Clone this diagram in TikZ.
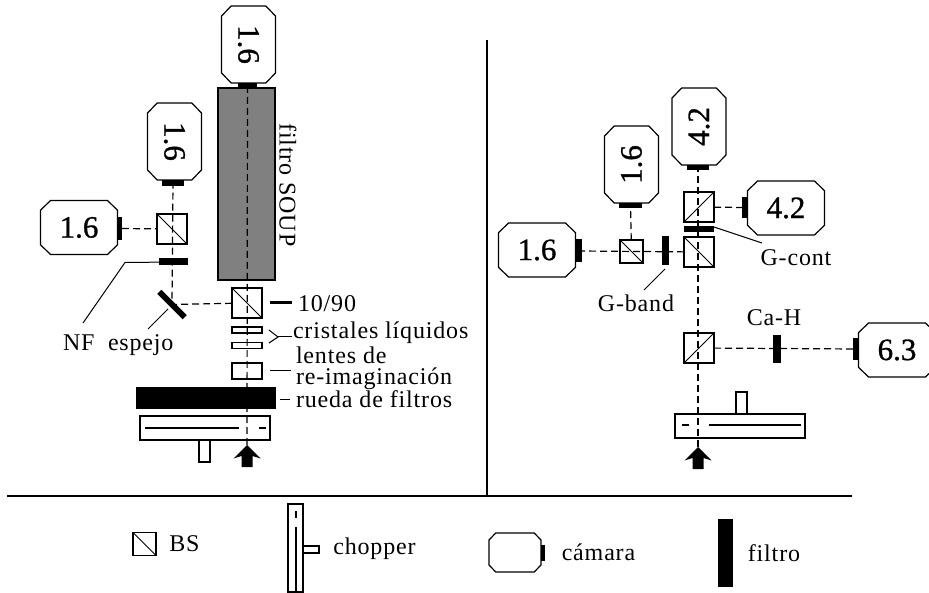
\documentclass[tikz,border=0pt]{standalone}
\usepackage{fontspec}
\setmainfont{Liberation Serif}
\newfontfamily\camfont[FakeBold=1]{Liberation Serif}
\newfontfamily\lblfont[LetterSpace=3.5]{Liberation Serif}
\usetikzlibrary{calc}
\tikzset{
  cam/.style={inner sep=0pt,outer sep=0pt,minimum width=77pt,minimum height=54pt,font=\camfont\fontsize{31}{31}\selectfont,
    append after command={\pgfextra{\draw[line width=1.2pt]
      ($(\tikzlastnode.north west)!.13!(\tikzlastnode.north east)$) -- ($(\tikzlastnode.north east)!.13!(\tikzlastnode.north west)$) --
      ($(\tikzlastnode.north east)!.18!(\tikzlastnode.south east)$) -- ($(\tikzlastnode.south east)!.18!(\tikzlastnode.north east)$) --
      ($(\tikzlastnode.south east)!.13!(\tikzlastnode.south west)$) -- ($(\tikzlastnode.south west)!.13!(\tikzlastnode.south east)$) --
      ($(\tikzlastnode.south west)!.18!(\tikzlastnode.north west)$) -- ($(\tikzlastnode.north west)!.18!(\tikzlastnode.south west)$) -- cycle;}}},
  blk/.style={fill=black,inner sep=0pt,outer sep=0pt},
  bsbox/.style={draw,line width=1.2pt,inner sep=0pt,outer sep=0pt,minimum size=#1},
  bsdown/.style={bsbox=#1,path picture={\draw[line width=1pt] (path picture bounding box.north west) -- (path picture bounding box.south east);}},
  bsup/.style={bsbox=#1,path picture={\draw[line width=1pt] (path picture bounding box.south west) -- (path picture bounding box.north east);}},
  beam/.style={line width=1.2pt,dash pattern=on 7pt off 4pt},
  plainbox/.style={draw,line width=1.2pt,inner sep=0pt,outer sep=0pt},
  txt/.style={font=\lblfont\fontsize{24}{21}\selectfont,inner sep=0pt,outer sep=0pt},
  lead/.style={line width=1pt},
  uparrow/.pic={\fill (0,0) -- (13.5,13.5) -- (5.5,11) -- (5.5,22) -- (-5.5,22) -- (-5.5,11) -- (-13.5,13.5) -- cycle;},
}
\begin{document}
\begin{tikzpicture}[x=1pt,y=-1pt]
\useasboundingbox (0,0) rectangle (929,593);
% Dividers
\coordinate (hl) at (7,496);
\coordinate (hr) at (852,496);
\coordinate (vt) at (487,40);
\coordinate (vb) at (487,496);
\draw[line width=1.2pt] (hl) -- (hr);
\draw[line width=1.2pt] (vt) -- (vb);
% Left bench
\node[plainbox,fill=black!50,minimum width=57pt,minimum height=192pt] (soup) at (246.5,184) {};
\node[txt,rotate=-90] (labsoup) at (288,185) {filtro SOUP};
\node[cam,rotate=-90] (camA) at (248.5,44.5) {1.6};
\node[blk,minimum width=19pt,minimum height=5pt] (noseA) at (247.5,85.5) {};
\node[cam,rotate=-90] (camB) at (174.5,141.5) {1.6};
\node[blk,minimum width=22pt,minimum height=6pt] (noseB) at (173,183) {};
\node[cam] (camC) at (79,227.5) {1.6};
\node[blk,minimum width=5pt,minimum height=23pt] (noseC) at (119.5,228.5) {};
\node[bsdown=30pt] (bsA) at (172,229) {};
\node[blk,minimum width=29pt,minimum height=7pt] (filtNF) at (173.5,262) {};
\node[blk,rotate=-45,minimum width=36pt,minimum height=6pt] (mirror) at (172,304.5) {};
\node[bsdown=30pt] (bsB) at (247,303) {};
\node[plainbox,minimum width=30pt,minimum height=6pt] (lcA) at (247,330) {};
\node[plainbox,minimum width=30pt,minimum height=6pt] (lcB) at (247,345.5) {};
\node[plainbox,minimum width=30pt,minimum height=16pt] (lens) at (247,371) {};
\node[blk,minimum width=140pt,minimum height=22pt] (wheel) at (206,398) {};
\node[plainbox,minimum width=130pt,minimum height=24pt] (chopA) at (205,428) {};
\node[plainbox,minimum width=11pt,minimum height=22pt] (stemA) at (204.5,451) {};
\coordinate (inA) at (247,445);
\pic at (inA) {uparrow};
\draw[line width=1.2pt] (145,428) -- (239,428);
\draw[line width=1.2pt] (259,428) -- (266,428);
\draw[beam] (inA) -- (noseA);
\draw[beam] (bsB) -- (mirror.center) -- (noseB);
\draw[beam] (noseC) -- (bsA);
% Left labels
\node[blk,minimum width=22pt,minimum height=3pt] (bar) at (281,303) {};
\node[txt,anchor=base west] (lab1090) at (298,312) {10/90};
\node[txt,anchor=base west] (lablc) at (293,339) {cristales líquidos};
\node[txt,anchor=west,align=left] (lablens) at (296,368) {lentes de\\re-imaginación};
\node[txt,anchor=base west] (labwheel) at (296,408) {rueda de filtros};
\node[txt,anchor=base west] (labNF) at (63,351) {NF};
\node[txt,anchor=base west] (labmir) at (108,351) {espejo};
\coordinate (kneeNF) at (125,262.5);
\coordinate (endNF) at (83,323);
\coordinate (endmir) at (168,309);
\coordinate (tipmir) at (148,329);
\coordinate (brA) at (269,330);
\coordinate (brM) at (278,337);
\coordinate (brB) at (269,343);
\coordinate (brR) at (292,337);
\coordinate (lensL) at (270,371);
\coordinate (lensR) at (291,371);
\coordinate (wheelL) at (280,400);
\coordinate (wheelR) at (290,400);
\draw[lead] (filtNF) -- (kneeNF) -- (endNF);
\draw[lead] (endmir) -- (tipmir);
\draw[lead] (brA) -- (brM) -- (brB);
\draw[lead] (brM) -- (brR);
\draw[lead] (lensL) -- (lensR);
\draw[lead] (wheelL) -- (wheelR);
% Right bench
\node[cam,rotate=90] (camD) at (699,126.5) {4.2};
\node[blk,minimum width=22pt,minimum height=5pt] (noseD) at (698,167.5) {};
\node[cam,rotate=90] (camE) at (631.5,164.5) {1.6};
\node[blk,minimum width=23pt,minimum height=5pt] (noseE) at (630.5,205.5) {};
\node[cam] (camF) at (786,208) {4.2};
\node[blk,minimum width=6pt,minimum height=21pt] (noseF) at (745,207.5) {};
\node[cam] (camG) at (537,250) {1.6};
\node[blk,minimum width=6pt,minimum height=23pt] (noseG) at (579,251) {};
\node[cam] (camH) at (897,350) {6.3};
\node[blk,minimum width=5pt,minimum height=22pt] (noseH) at (855.5,349) {};
\node[bsup=30pt] (bsC) at (699,207) {};
\node[blk,minimum width=30pt,minimum height=6pt] (filtGc) at (699,229) {};
\node[bsdown=30pt] (bsD) at (699,252) {};
\node[blk,minimum width=7pt,minimum height=29pt] (filtGb) at (665.5,251) {};
\node[bsdown=23pt] (bsE) at (631.5,251.5) {};
\node[bsup=30pt] (bsF) at (699,348) {};
\node[blk,minimum width=8pt,minimum height=28pt] (filtCa) at (777,349) {};
\node[plainbox,minimum width=130pt,minimum height=24pt] (chopB) at (740,426) {};
\node[plainbox,minimum width=11pt,minimum height=22pt] (stemB) at (741.5,403) {};
\coordinate (inB) at (698,447);
\pic at (inB) {uparrow};
\draw[line width=1.2pt] (682,425) -- (689,425);
\draw[line width=1.2pt] (709,425) -- (801,425);
\draw[beam] (inB) -- (noseD);
\draw[beam] (bsD) -- (noseG);
\draw[beam] (bsE) -- (noseE);
\draw[beam] (bsC) -- (noseF);
\draw[beam] (bsF) -- (noseH);
% Right labels
\node[txt] (labGc) at (796,258) {G-cont};
\node[txt] (labGb) at (636,303) {G-band};
\node[txt] (labCa) at (774,318) {Ca-H};
\coordinate (gcA) at (714,227);
\coordinate (gcB) at (762,243);
\coordinate (gbA) at (665,269);
\coordinate (gbB) at (644,290);
\draw[lead] (gcA) -- (gcB);
\draw[lead] (gbA) -- (gbB);
% Legend
\node[bsdown=23pt] (keyBS) at (144.5,544) {};
\node[txt] (labBS) at (184.5,544) {BS};
\node[plainbox,minimum width=15pt,minimum height=88pt] (keychop) at (295.5,548) {};
\node[plainbox,minimum width=16pt,minimum height=7pt] (keystem) at (311,549.5) {};
\draw[line width=1.2pt] (296,511) -- (296,518);
\draw[line width=1.2pt] (296,527) -- (296,591);
\node[txt] (labchop) at (374.5,549) {chopper};
\node[cam,minimum width=52pt,minimum height=39pt] (keycam) at (515,552.5) {};
\node[blk,minimum width=4pt,minimum height=16pt] (keynose) at (543,553) {};
\node[txt] (labcam) at (598.5,552) {cámara};
\node[blk,minimum width=15pt,minimum height=68pt] (keyfilt) at (725.5,553) {};
\node[txt] (labfilt) at (774,553) {filtro};
\end{tikzpicture}
\end{document}
